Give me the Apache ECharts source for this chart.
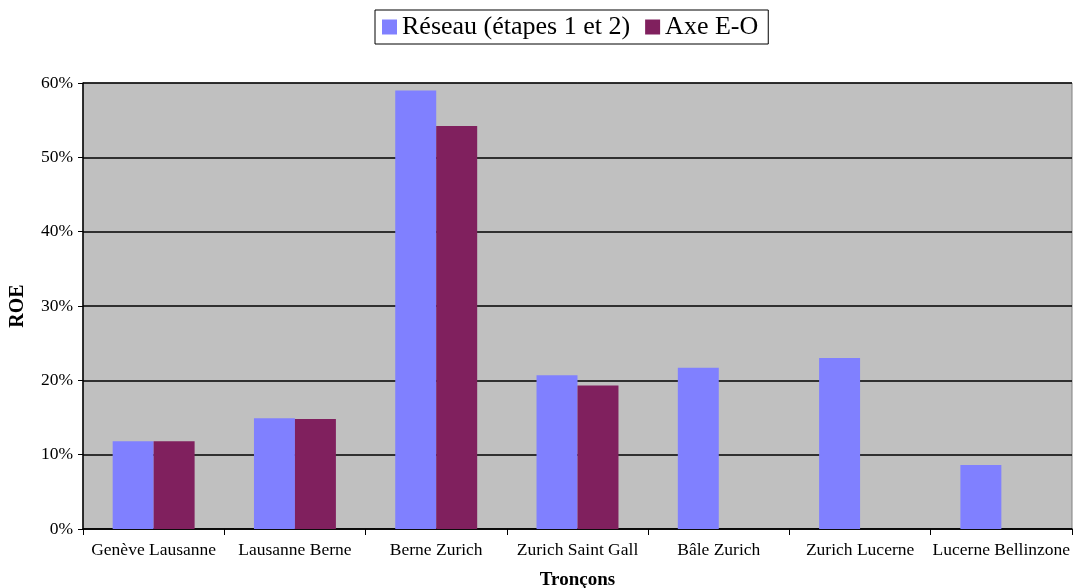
<!DOCTYPE html>
<html>
<head>
<meta charset="utf-8">
<script src="https://cdn.jsdelivr.net/npm/echarts@6/dist/echarts.min.js"></script>
<style>
  html, body { margin: 0; padding: 0; background: #ffffff; }
  #chart { width: 1075px; height: 588px; }
</style>
</head>
<body>
<div id="chart"></div>
<script>
// Road sections (tronçons)
const categories = ['Genève Lausanne', 'Lausanne Berne', 'Berne Zurich', 'Zurich Saint Gall', 'Bâle Zurich', 'Zurich Lucerne', 'Lucerne Bellinzone'];
// ROE in percent
const reseauValues = [11.8, 14.9, 59.0, 20.7, 21.7, 23.0, 8.6];
const axeEOValues = [11.8, 14.8, 54.2, 19.3, null, null, null];
const seriesNames = ['Réseau (étapes 1 et 2)', 'Axe E-O'];

const serif = '"Liberation Serif", "Times New Roman", serif';
const chart = echarts.init(document.getElementById('chart'));

chart.setOption({
  animation: false,
  textStyle: { fontFamily: serif, color: '#000' },
  legend: {
    data: seriesNames,
    top: 10,
    left: 375,
    itemWidth: 15,
    itemHeight: 15,
    itemGap: 15,
    icon: 'rect',
    borderColor: '#000',
    borderWidth: 1,
    padding: [4, 10, 4, 7],
    textStyle: { fontFamily: serif, fontSize: 26, color: '#000' }
  },
  grid: {
    left: 83, right: 3, top: 83, bottom: 59,
    outerBoundsMode: 'none',
    containLabel: false,
    show: true,
    backgroundColor: '#C0C0C0',
    borderColor: '#808080',
    borderWidth: 1
  },
  xAxis: {
    type: 'category',
    data: categories,
    name: 'Tronçons',
    nameLocation: 'middle',
    nameGap: 42,
    nameTextStyle: { fontFamily: serif, fontSize: 19, fontWeight: 'bold', color: '#000' },
    axisLine: { lineStyle: { color: '#000', width: 1.5 } },
    axisTick: { show: true, alignWithLabel: false, length: 6, lineStyle: { color: '#000' } },
    axisLabel: { fontFamily: serif, fontSize: 17.5, color: '#000', margin: 12, interval: 0 }
  },
  yAxis: {
    type: 'value',
    min: 0, max: 60, interval: 10,
    name: 'ROE',
    nameLocation: 'middle',
    nameGap: 55,
    nameRotate: 90,
    nameTextStyle: { fontFamily: serif, fontSize: 20, fontWeight: 'bold', color: '#000' },
    axisLine: { show: true, lineStyle: { color: '#000', width: 1.5 } },
    axisTick: { show: true, length: 5, lineStyle: { color: '#000' } },
    axisLabel: { fontFamily: serif, fontSize: 17.5, color: '#000', margin: 10, formatter: '{value}%' },
    splitLine: { show: true, lineStyle: { color: '#000', width: 1.5 } }
  },
  series: [
    {
      name: seriesNames[0],
      type: 'bar',
      data: reseauValues,
      itemStyle: { color: '#8080FF' },
      barGap: '0%',
      barCategoryGap: '42%'
    },
    {
      name: seriesNames[1],
      type: 'bar',
      data: axeEOValues,
      itemStyle: { color: '#80205E' },
      barGap: '0%',
      barCategoryGap: '42%'
    }
  ]
});
</script>
</body>
</html>
